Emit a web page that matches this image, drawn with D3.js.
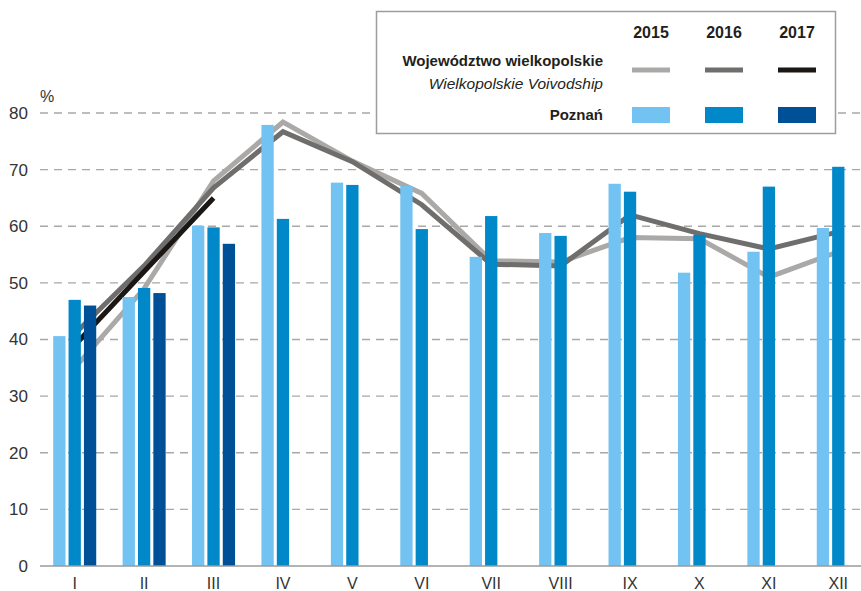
<!DOCTYPE html>
<html lang="pl">
<head>
<meta charset="UTF-8">
<title>Województwo wielkopolskie / Poznań</title>
<script src="https://cdn.jsdelivr.net/npm/d3@7"></script>
<style>
    body { margin: 0; padding: 0; background: #fff; }
    svg { display: block; font-family: "Liberation Sans Narrow", "Arial Narrow", "Liberation Sans", sans-serif; }
    .tick-label { font-size: 17px; fill: #333; }
    .month-label { font-size: 16px; fill: #333; }
    .legend-text { font-size: 15px; fill: #231f20; }
</style>
</head>
<body>
<div id="chart"></div>
<script>
    // data
    const months = ["I", "II", "III", "IV", "V", "VI", "VII", "VIII", "IX", "X", "XI", "XII"];
    const years = ["2015", "2016", "2017"];
    const yTicks = [0, 10, 20, 30, 40, 50, 60, 70, 80];

    // Poznań (bars)
    const poznan2015 = [40.6, 47.5, 60.1, 77.9, 67.7, 67.1, 54.6, 58.8, 67.5, 51.8, 55.5, 59.7];
    const poznan2016 = [47.0, 49.1, 59.8, 61.3, 67.3, 59.5, 61.8, 58.3, 66.1, 58.5, 67.0, 70.5];
    const poznan2017 = [46.0, 48.2, 56.9];

    // Województwo wielkopolskie (lines)
    const woj2015 = [35.0, 49.0, 68.0, 78.4, 71.5, 65.8, 53.9, 53.7, 58.0, 57.8, 51.0, 55.5];
    const woj2016 = [41.0, 53.0, 66.8, 76.7, 71.4, 63.8, 53.3, 53.0, 62.0, 58.7, 56.0, 59.0];
    const woj2017 = [39.0, 52.0, 65.0];

    const barColors = { "2015": "#73c3f2", "2016": "#0088c9", "2017": "#005097" };
    const lineColors = { "2015": "#aaa9a7", "2016": "#6f6e6d", "2017": "#1a1715" };

    const width = 861, height = 591;

    const svg = d3.select("#chart").append("svg")
        .attr("width", width)
        .attr("height", height);

    const x0 = d3.scaleBand().domain(months).range([40, 873])
        .paddingInner(0.38).paddingOuter(0.19);
    const x1 = d3.scaleBand().domain(years).range([0, x0.bandwidth()]).paddingInner(0.2);
    const y = d3.scaleLinear().domain([0, 80]).range([566, 113]);

    /* --- grid --- */
    svg.append("g").selectAll("line")
        .data(yTicks.filter(d => d > 0))
        .enter().append("line")
        .attr("x1", 40).attr("x2", width)
        .attr("y1", d => y(d)).attr("y2", d => y(d))
        .attr("stroke", "#a8a8a8")
        .attr("stroke-width", 1.3)
        .attr("stroke-dasharray", "8,6");

    svg.append("g").selectAll("text")
        .data(yTicks)
        .enter().append("text")
        .attr("class", "tick-label")
        .attr("x", 28).attr("y", d => y(d))
        .attr("dy", "0.35em")
        .attr("text-anchor", "end")
        .text(d => d);

    svg.append("text")
        .attr("class", "tick-label")
        .attr("x", 40).attr("y", 102)
        .style("font-size", "16px")
        .text("%");

    /* --- lines (drawn under the bars) --- */
    const lineSeries = [
        { year: "2015", values: woj2015 },
        { year: "2016", values: woj2016 },
        { year: "2017", values: woj2017 }
    ];
    const line = d3.line()
        .x((d, i) => x0(months[i]) + x0.bandwidth() / 2)
        .y(d => y(d));

    svg.append("g").selectAll("path")
        .data(lineSeries)
        .enter().append("path")
        .attr("fill", "none")
        .attr("stroke", d => lineColors[d.year])
        .attr("stroke-width", 5)
        .attr("d", d => line(d.values));

    /* --- bars --- */
    const barSeries = [
        { year: "2015", values: poznan2015 },
        { year: "2016", values: poznan2016 },
        { year: "2017", values: poznan2017 }
    ];
    const barData = [];
    barSeries.forEach(s => s.values.forEach((v, i) => barData.push({ year: s.year, month: months[i], value: v })));

    svg.append("g").selectAll("rect")
        .data(barData)
        .enter().append("rect")
        .attr("x", d => x0(d.month) + x1(d.year))
        .attr("width", x1.bandwidth())
        .attr("y", d => y(d.value))
        .attr("height", d => y(0) - y(d.value))
        .attr("fill", d => barColors[d.year]);

    /* --- x axis --- */
    svg.append("line")
        .attr("x1", 40).attr("x2", width)
        .attr("y1", y(0)).attr("y2", y(0))
        .attr("stroke", "#9a9a9a")
        .attr("stroke-width", 1.5);

    svg.append("g").selectAll("text")
        .data(months)
        .enter().append("text")
        .attr("class", "month-label")
        .attr("x", d => x0(d) + x0.bandwidth() / 2)
        .attr("y", 589)
        .attr("text-anchor", "middle")
        .text(d => d);

    /* --- legend --- */
    const legend = svg.append("g");
    legend.append("rect")
        .attr("x", 376.5).attr("y", 11.5)
        .attr("width", 459).attr("height", 122)
        .attr("fill", "#fff")
        .attr("stroke", "#9d9d9d")
        .attr("stroke-width", 1.5);

    const legendX = d3.scalePoint().domain(years).range([651, 797]);

    legend.selectAll(".year")
        .data(years)
        .enter().append("text")
        .attr("class", "legend-text")
        .attr("x", d => legendX(d)).attr("y", 38)
        .attr("text-anchor", "middle")
        .style("font-weight", "bold")
        .style("font-size", "16px")
        .text(d => d);

    legend.append("text")
        .attr("class", "legend-text")
        .attr("x", 603).attr("y", 66)
        .attr("text-anchor", "end")
        .style("font-weight", "bold")
        .text("Województwo wielkopolskie");
    legend.append("text")
        .attr("class", "legend-text")
        .attr("x", 603).attr("y", 89)
        .attr("text-anchor", "end")
        .style("font-style", "italic")
        .style("font-size", "15.5px")
        .text("Wielkopolskie Voivodship");
    legend.append("text")
        .attr("class", "legend-text")
        .attr("x", 603).attr("y", 120)
        .attr("text-anchor", "end")
        .style("font-weight", "bold")
        .text("Poznań");

    legend.selectAll(".swatch-line")
        .data(years)
        .enter().append("rect")
        .attr("x", d => legendX(d) - 19).attr("y", 67.5)
        .attr("width", 38).attr("height", 5)
        .attr("fill", d => lineColors[d]);

    legend.selectAll(".swatch-bar")
        .data(years)
        .enter().append("rect")
        .attr("x", d => legendX(d) - 19).attr("y", 107)
        .attr("width", 38).attr("height", 16)
        .attr("fill", d => barColors[d]);
</script>
</body>
</html>
